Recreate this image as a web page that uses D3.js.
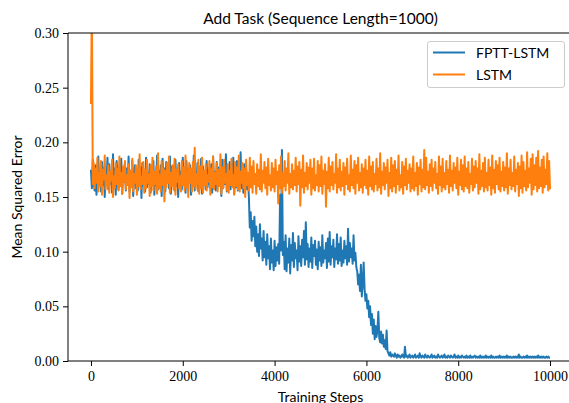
<!DOCTYPE html>
<html><head><meta charset="utf-8">
<script src="https://d3js.org/d3.v7.min.js"></script>
<style>body{margin:0;background:#fff}</style>
</head><body>
<svg id="c" width="569" height="403"></svg>
<script>
const STEP = 20;
const fpttLstm = [
0.175,0.158,0.184,0.163,0.156,0.179,0.152,0.171,0.187,0.160,
0.168,0.155,0.182,0.161,0.177,0.150,0.174,0.165,0.186,0.157,
0.180,0.162,0.171,0.154,0.189,0.159,0.176,0.152,0.183,0.166,
0.157,0.178,0.161,0.185,0.153,0.172,0.164,0.181,0.156,0.176,
0.162,0.187,0.155,0.174,0.160,0.183,0.151,0.170,0.179,0.158,
0.173,0.156,0.184,0.163,0.177,0.149,0.181,0.160,0.175,0.155,
0.186,0.159,0.172,0.162,0.180,0.154,0.176,0.165,0.183,0.152,
0.170,0.161,0.188,0.157,0.174,0.163,0.179,0.151,0.185,0.160,
0.176,0.155,0.182,0.164,0.171,0.158,0.187,0.153,0.178,0.162,
0.169,0.156,0.184,0.160,0.175,0.150,0.181,0.163,0.173,0.157,
0.186,0.161,0.177,0.154,0.183,0.159,0.170,0.165,0.179,0.152,
0.174,0.160,0.188,0.156,0.172,0.163,0.181,0.155,0.176,0.161,
0.185,0.153,0.178,0.162,0.170,0.157,0.183,0.159,0.175,0.164,
0.158,0.180,0.154,0.187,0.161,0.173,0.156,0.182,0.160,0.177,
0.163,0.171,0.151,0.184,0.158,0.176,0.162,0.189,0.155,0.174,
0.160,0.182,0.157,0.170,0.164,0.186,0.153,0.178,0.159,0.183,
0.156,0.175,0.162,0.191,0.158,0.172,0.154,0.180,0.161,0.176,
0.157,0.168,0.150,0.122,0.136,0.110,0.128,0.114,0.132,0.105,
0.123,0.100,0.116,0.096,0.125,0.103,0.112,0.092,0.119,0.095,
0.109,0.088,0.116,0.094,0.105,0.084,0.112,0.090,0.101,0.083,
0.110,0.087,0.104,0.092,0.107,0.089,0.152,0.101,0.193,0.097,
0.109,0.084,0.115,0.082,0.103,0.090,0.112,0.080,0.106,0.092,
0.117,0.086,0.108,0.094,0.101,0.083,0.114,0.091,0.105,0.087,
0.111,0.095,0.119,0.088,0.127,0.093,0.107,0.086,0.103,0.091,
0.113,0.085,0.106,0.096,0.110,0.088,0.102,0.084,0.109,0.092,
0.104,0.087,0.115,0.090,0.101,0.094,0.108,0.085,0.112,0.091,
0.118,0.088,0.105,0.095,0.111,0.086,0.103,0.093,0.116,0.089,
0.107,0.092,0.113,0.087,0.101,0.090,0.110,0.094,0.105,0.088,
0.121,0.091,0.108,0.095,0.103,0.089,0.115,0.092,0.099,0.086,
0.082,0.070,0.079,0.064,0.088,0.059,0.071,0.090,0.066,0.055,
0.061,0.048,0.055,0.040,0.050,0.033,0.043,0.025,0.038,0.020,
0.032,0.022,0.028,0.045,0.021,0.017,0.027,0.016,0.024,0.013,
0.019,0.011,0.028,0.009,0.007,0.005,0.008,0.004,0.006,0.005,
0.004,0.007,0.005,0.003,0.006,0.004,0.005,0.003,0.004,0.006,
0.004,0.003,0.013,0.004,0.005,0.003,0.004,0.006,0.003,0.004,
0.005,0.003,0.004,0.006,0.003,0.004,0.005,0.003,0.007,0.004,
0.003,0.005,0.004,0.003,0.006,0.004,0.003,0.005,0.004,0.003,
0.004,0.006,0.003,0.004,0.005,0.003,0.004,0.003,0.006,0.004,
0.003,0.004,0.005,0.003,0.004,0.006,0.003,0.004,0.003,0.005,
0.004,0.003,0.005,0.004,0.003,0.004,0.006,0.003,0.004,0.003,
0.005,0.003,0.004,0.003,0.005,0.004,0.003,0.004,0.003,0.005,
0.003,0.004,0.003,0.005,0.003,0.004,0.003,0.004,0.005,0.003,
0.004,0.003,0.004,0.003,0.005,0.003,0.004,0.003,0.004,0.003,
0.005,0.003,0.004,0.003,0.004,0.003,0.005,0.003,0.004,0.003,
0.003,0.004,0.003,0.004,0.003,0.005,0.003,0.004,0.003,0.004,
0.003,0.004,0.003,0.005,0.003,0.004,0.003,0.004,0.003,0.003,
0.004,0.003,0.004,0.003,0.004,0.003,0.006,0.003,0.004,0.003,
0.003,0.004,0.003,0.004,0.003,0.005,0.003,0.004,0.003,0.004,
0.003,0.004,0.003,0.004,0.003,0.004,0.003,0.005,0.003,0.004,
0.003,0.004,0.003,0.004,0.003,0.003,0.004,0.003,0.004,0.003,
0.003
];
const lstm = [
0.235,0.330,0.162,0.181,0.158,0.176,0.163,0.186,0.155,0.172,
0.160,0.183,0.152,0.175,0.166,0.188,0.157,0.170,0.161,0.179,
0.154,0.173,0.165,0.184,0.150,0.169,0.158,0.181,0.162,0.176,
0.156,0.187,0.160,0.172,0.153,0.178,0.164,0.183,0.157,0.170,
0.161,0.180,0.149,0.174,0.159,0.185,0.155,0.171,0.163,0.179,
0.152,0.176,0.160,0.189,0.157,0.168,0.162,0.182,0.154,0.175,
0.158,0.184,0.163,0.171,0.151,0.179,0.160,0.186,0.156,0.173,
0.162,0.178,0.153,0.190,0.158,0.170,0.155,0.183,0.161,0.176,
0.146,0.174,0.159,0.181,0.163,0.187,0.154,0.172,0.160,0.179,
0.157,0.185,0.152,0.175,0.164,0.180,0.158,0.169,0.155,0.183,
0.161,0.177,0.156,0.188,0.159,0.173,0.150,0.181,0.163,0.176,
0.155,0.182,0.160,0.195,0.157,0.171,0.162,0.184,0.153,0.178,
0.158,0.186,0.154,0.174,0.161,0.180,0.156,0.170,0.164,0.183,
0.152,0.176,0.159,0.187,0.157,0.172,0.162,0.181,0.155,0.175,
0.160,0.189,0.153,0.177,0.158,0.184,0.163,0.171,0.156,0.180,
0.154,0.174,0.161,0.185,0.159,0.170,0.152,0.182,0.160,0.177,
0.157,0.188,0.155,0.173,0.163,0.181,0.158,0.176,0.150,0.184,
0.161,0.172,0.156,0.186,0.159,0.178,0.154,0.183,0.162,0.171,
0.153,0.180,0.160,0.175,0.157,0.189,0.155,0.174,0.163,0.182,
0.158,0.177,0.152,0.185,0.161,0.170,0.156,0.181,0.159,0.176,
0.155,0.184,0.162,0.173,0.144,0.179,0.158,0.187,0.154,0.172,
0.160,0.183,0.156,0.176,0.163,0.190,0.153,0.171,0.159,0.180,
0.157,0.174,0.161,0.186,0.155,0.178,0.162,0.182,0.142,0.175,
0.159,0.188,0.154,0.172,0.160,0.181,0.157,0.177,0.163,0.184,
0.152,0.176,0.158,0.185,0.156,0.170,0.161,0.183,0.155,0.179,
0.160,0.187,0.153,0.174,0.162,0.180,0.141,0.173,0.158,0.186,
0.155,0.178,0.161,0.182,0.157,0.171,0.163,0.189,0.154,0.176,
0.159,0.184,0.156,0.173,0.160,0.181,0.152,0.177,0.162,0.185,
0.157,0.170,0.155,0.188,0.161,0.175,0.158,0.183,0.153,0.179,
0.163,0.186,0.156,0.172,0.159,0.180,0.154,0.176,0.161,0.184,
0.158,0.174,0.152,0.187,0.160,0.178,0.157,0.182,0.155,0.171,
0.162,0.185,0.156,0.176,0.159,0.190,0.153,0.173,0.161,0.181,
0.157,0.177,0.163,0.184,0.151,0.172,0.158,0.186,0.155,0.179,
0.160,0.183,0.154,0.175,0.162,0.188,0.156,0.170,0.159,0.182,
0.153,0.178,0.161,0.185,0.157,0.174,0.163,0.180,0.155,0.176,
0.158,0.187,0.156,0.172,0.160,0.181,0.152,0.177,0.162,0.184,
0.155,0.175,0.159,0.193,0.157,0.186,0.161,0.173,0.154,0.180,
0.160,0.184,0.156,0.176,0.163,0.182,0.158,0.171,0.153,0.187,
0.161,0.178,0.155,0.185,0.159,0.172,0.157,0.183,0.162,0.175,
0.154,0.188,0.160,0.174,0.156,0.181,0.163,0.177,0.158,0.186,
0.152,0.173,0.161,0.184,0.157,0.179,0.155,0.187,0.160,0.176,
0.158,0.182,0.154,0.171,0.162,0.185,0.156,0.178,0.159,0.183,
0.163,0.176,0.153,0.189,0.157,0.174,0.160,0.181,0.155,0.186,
0.159,0.172,0.156,0.184,0.161,0.177,0.152,0.188,0.158,0.175,
0.154,0.183,0.162,0.179,0.157,0.186,0.155,0.173,0.160,0.182,
0.156,0.177,0.159,0.190,0.153,0.176,0.161,0.184,0.157,0.172,
0.160,0.187,0.155,0.175,0.162,0.181,0.151,0.178,0.158,0.188,
0.154,0.182,0.160,0.174,0.156,0.191,0.159,0.176,0.163,0.185,
0.152,0.189,0.157,0.179,0.161,0.186,0.155,0.192,0.158,0.177,
0.160,0.184,0.154,0.187,0.159,0.175,0.162,0.190,0.156,0.183,
0.157
];
const seriesNames = ["FPTT-LSTM","LSTM"];
const seriesColors = ["#1f77b4","#ff7f0e"];
const xTicks = [0,2000,4000,6000,8000,10000];
const yTicks = [0.00,0.05,0.10,0.15,0.20,0.25,0.30];

const svg = d3.select("#c");
const L = 68, R = 573, T = 33, B = 361;
const x = d3.scaleLinear().domain([-500,10500]).range([L,R]);
const y = d3.scaleLinear().domain([0,0.30]).range([B,T]);

svg.append("defs").append("clipPath").attr("id","clip")
  .append("rect").attr("x",L).attr("y",T).attr("width",R-L).attr("height",B-T);

const line = d3.line().x((d,i)=>x(i*STEP)).y(d=>y(d));
const g = svg.append("g").attr("clip-path","url(#clip)");
[fpttLstm,lstm].forEach((s,k)=>{
  g.append("path").datum(s).attr("d",line).attr("fill","none")
   .attr("stroke",seriesColors[k]).attr("stroke-width",2).attr("stroke-linejoin","round");
});

const serif = "'Liberation Serif','DejaVu Serif',serif";
const sans = "Lato,'DejaVu Sans',sans-serif";

const xa = svg.append("g").attr("transform",`translate(0,${B})`)
  .call(d3.axisBottom(x).tickValues(xTicks).tickSize(5).tickPadding(5).tickFormat(d3.format("d")));
const ya = svg.append("g").attr("transform",`translate(${L},0)`)
  .call(d3.axisLeft(y).tickValues(yTicks).tickSize(5).tickPadding(4).tickFormat(d3.format(".2f")));
[xa,ya].forEach(a=>{
  a.selectAll("text").attr("font-family",serif).attr("font-size",14).attr("fill","#000");
  a.selectAll("line").attr("stroke","#000").attr("stroke-width",1);
  a.select(".domain").remove();
});
// spines
svg.append("line").attr("x1",L).attr("x2",L).attr("y1",T).attr("y2",B).attr("stroke","#000");
svg.append("line").attr("x1",L).attr("x2",R).attr("y1",B).attr("y2",B).attr("stroke","#000");
svg.append("line").attr("x1",L).attr("x2",R).attr("y1",T).attr("y2",T).attr("stroke","#000");
svg.append("line").attr("x1",R).attr("x2",R).attr("y1",T).attr("y2",B).attr("stroke","#000");

svg.append("text").attr("x",(L+R)/2).attr("y",24).attr("text-anchor","middle")
  .attr("font-family",sans).attr("font-size",15.5).text("Add Task (Sequence Length=1000)");
svg.append("text").attr("x",(L+R)/2).attr("y",402).attr("text-anchor","middle")
  .attr("font-family",sans).attr("font-size",14).text("Training Steps");
svg.append("text").attr("transform",`translate(22,${(T+B)/2}) rotate(-90)`).attr("text-anchor","middle")
  .attr("font-family",sans).attr("font-size",14).text("Mean Squared Error");

const lg = svg.append("g");
lg.append("rect").attr("x",427.5).attr("y",41.5).attr("width",137).attr("height",46).attr("rx",2.5)
  .attr("fill","#fff").attr("fill-opacity",0.8).attr("stroke","#ccc");
seriesNames.forEach((n,k)=>{
  const yy = 52.5 + k*22;
  lg.append("line").attr("x1",433).attr("x2",465).attr("y1",yy).attr("y2",yy)
    .attr("stroke",seriesColors[k]).attr("stroke-width",2);
  lg.append("text").attr("x",476).attr("y",yy+5).attr("font-family",sans).attr("font-size",14).text(n);
});
</script>
</body></html>
